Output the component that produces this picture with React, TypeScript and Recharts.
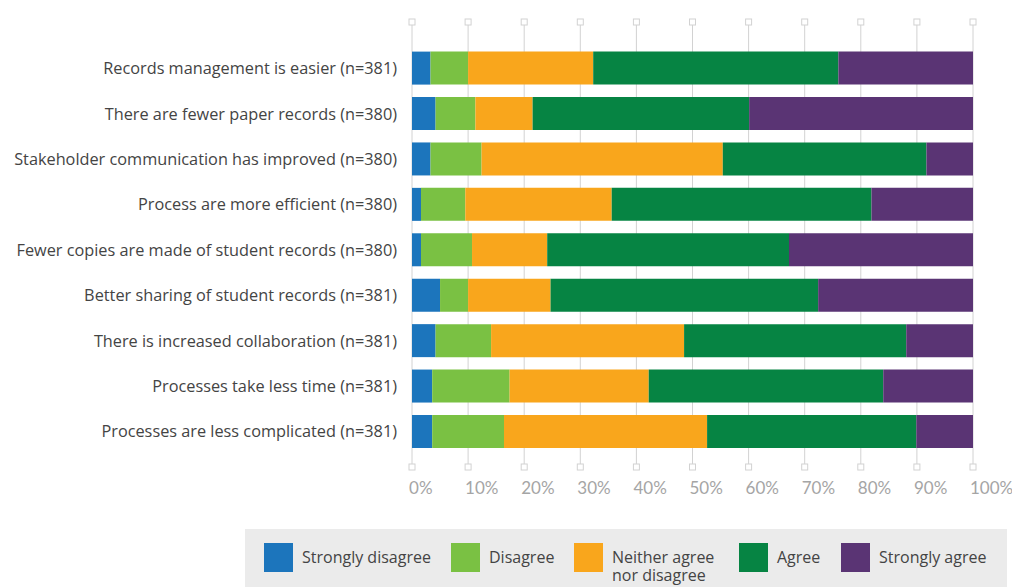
import { BarChart, Bar, XAxis, YAxis, CartesianGrid } from 'recharts';

// Survey statements, top to bottom
const statements = [
  'Records management is easier (n=381)',
  'There are fewer paper records (n=380)',
  'Stakeholder communication has improved (n=380)',
  'Process are more efficient (n=380)',
  'Fewer copies are made of student records (n=380)',
  'Better sharing of student records (n=381)',
  'There is increased collaboration (n=381)',
  'Processes take less time (n=381)',
  'Processes are less complicated (n=381)',
];

// Share of responses (%) per statement
const stronglyDisagree = [3.3, 4.2, 3.3, 1.6, 1.6, 5.0, 4.2, 3.6, 3.6];
const disagree = [6.7, 7.1, 9.1, 7.9, 9.1, 5.0, 9.9, 13.8, 12.8];
const neither = [22.3, 10.2, 43.0, 26.1, 13.4, 14.7, 34.4, 24.8, 36.2];
const agree = [43.7, 38.6, 36.3, 46.3, 43.1, 47.7, 39.6, 41.8, 37.3];
const stronglyAgree = [24.0, 39.9, 8.3, 18.1, 32.8, 27.6, 11.9, 16.0, 10.1];

const percentTicks = [0, 10, 20, 30, 40, 50, 60, 70, 80, 90, 100];

const series = [
  { key: 'sd', name: 'Strongly disagree', color: '#1c75bc', values: stronglyDisagree },
  { key: 'd', name: 'Disagree', color: '#7ac143', values: disagree },
  { key: 'n', name: 'Neither agree\nnor disagree', color: '#f9a61c', values: neither },
  { key: 'a', name: 'Agree', color: '#068443', values: agree },
  { key: 'sa', name: 'Strongly agree', color: '#5a3474', values: stronglyAgree },
];

const rows = statements.map((label, i) => {
  const row: Record<string, string | number> = { label };
  series.forEach((s) => {
    row[s.key] = s.values[i];
  });
  return row;
});

const FONT = '"Open Sans", sans-serif';
const TICK_FONT = 'Lato, sans-serif';
const GRID = '#d2d2d2';
const PLOT_HEIGHT = 445;

// left edge of each legend entry
const legendX = [264, 451, 574, 739, 841];

// square markers at both ends of each gridline, plus the percent label
const PercentTick = (props: any) => {
  const { x, y, payload } = props;
  return (
    <g>
      <rect x={x - 3} y={y - PLOT_HEIGHT - 3} width={6} height={6} fill="#fff" stroke={GRID} strokeWidth={1} />
      <rect x={x - 3} y={y - 3} width={6} height={6} fill="#fff" stroke={GRID} strokeWidth={1} />
      <text x={x - 3} y={y + 27} textAnchor="start" fill="#a5a5a5" fontSize={17} fontFamily={TICK_FONT}>
        {payload.value}%
      </text>
    </g>
  );
};

export default function App() {
  return (
    <div style={{ position: 'absolute', left: 0, top: 0, width: 1012, height: 587, background: '#fff', overflow: 'hidden' }}>
      <BarChart
        width={1012}
        height={507}
        data={rows}
        layout="vertical"
        margin={{ top: 22, right: 39, left: 0, bottom: 0 }}
      >
        <CartesianGrid horizontal={false} stroke={GRID} />
        <XAxis
          type="number"
          domain={[0, 100]}
          ticks={percentTicks}
          interval={0}
          axisLine={false}
          tickLine={false}
          tickSize={0}
          tickMargin={0}
          height={40}
          tick={PercentTick}
        />
        <YAxis
          type="category"
          dataKey="label"
          width={412}
          axisLine={false}
          tickLine={false}
          tickSize={0}
          tickMargin={15}
          interval={0}
          padding={{ top: 23.6, bottom: 12.6 }}
          tick={{ fill: '#444', fontSize: 16.3, fontFamily: FONT }}
        />
        {series.map((s) => (
          <Bar
            key={s.key}
            dataKey={s.key}
            stackId="all"
            fill={s.color}
            barSize={33}
            isAnimationActive={false}
          />
        ))}
      </BarChart>
      <div
        style={{
          position: 'absolute',
          left: 245,
          top: 529,
          width: 762,
          height: 58,
          background: '#ebebeb',
        }}
      />
      {series.map((s, i) => (
        <div
          key={s.key}
          style={{ position: 'absolute', left: legendX[i], top: 543, display: 'flex', alignItems: 'flex-start' }}
        >
          <div style={{ width: 29, height: 29, background: s.color, flex: 'none' }} />
          <div
            style={{
              marginLeft: 9,
              marginTop: 5,
              fontFamily: FONT,
              fontSize: 16,
              lineHeight: '18px',
              color: '#444',
              whiteSpace: 'pre',
            }}
          >
            {s.name}
          </div>
        </div>
      ))}
    </div>
  );
}
